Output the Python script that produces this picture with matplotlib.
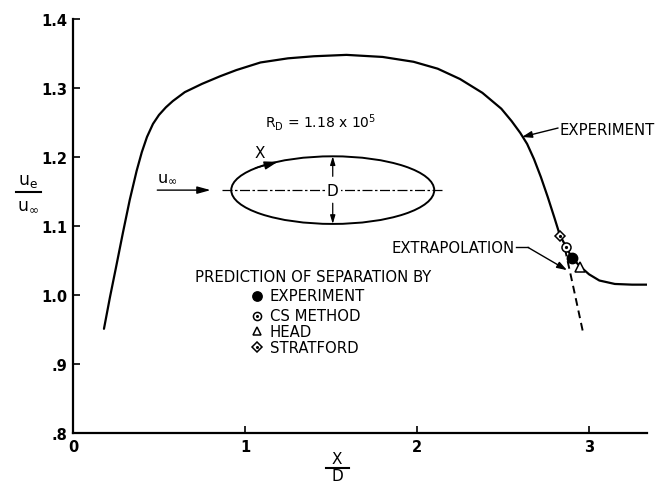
import matplotlib
matplotlib.use("Agg")
import matplotlib.pyplot as plt
from matplotlib.patches import Ellipse
from matplotlib.lines import Line2D

plt.rcParams['font.family'] = ['DejaVu Sans']
plt.rcParams['mathtext.fontset'] = 'dejavusans'

# ---- data ----
x_exp = [0.18, 0.215, 0.25, 0.29, 0.33, 0.37, 0.40, 0.43, 0.465, 0.50, 0.54, 0.58,
         0.65, 0.75, 0.855, 0.95, 1.09, 1.25, 1.40, 1.59, 1.80, 1.98, 2.12, 2.25,
         2.38, 2.49, 2.55, 2.60, 2.64, 2.68, 2.72, 2.76, 2.80, 2.83, 2.866, 2.90, 2.95,
         3.00, 3.06, 3.15, 3.25, 3.34]
y_exp = [0.951, 0.997, 1.040, 1.090, 1.138, 1.180, 1.207, 1.229, 1.248, 1.261, 1.272, 1.281,
         1.294, 1.306, 1.317, 1.326, 1.337, 1.343, 1.346, 1.348, 1.345, 1.338, 1.328, 1.313,
         1.293, 1.270, 1.252, 1.235, 1.219, 1.197, 1.171, 1.142, 1.111, 1.087, 1.070, 1.054, 1.041,
         1.030, 1.021, 1.016, 1.015, 1.015]

x_extrap = [2.86, 2.91, 2.965]
y_extrap = [1.067, 1.010, 0.946]

sep_methods = ["EXPERIMENT", "CS METHOD", "HEAD", "STRATFORD"]
sep_x = [2.90, 2.866, 2.95, 2.83]
sep_y = [1.054, 1.070, 1.041, 1.086]

x_ticks = [0, 1, 2, 3]
x_ticklabels = ["0", "1", "2", "3"]
y_ticks = [0.8, 0.9, 1.0, 1.1, 1.2, 1.3, 1.4]
y_ticklabels = [".8", ".9", "1.0", "1.1", "1.2", "1.3", "1.4"]

W, H = 666, 485
fig = plt.figure(figsize=(W / 100, H / 100), dpi=100)
ax = fig.add_axes([73 / W, 1 - 434 / H, (647 - 73) / W, (434 - 20) / H])
ax.set_xlim(0, 3.337)
ax.set_ylim(0.8, 1.4)
for s in ['top', 'right']:
    ax.spines[s].set_visible(False)
for s in ['left', 'bottom']:
    ax.spines[s].set_linewidth(1.6)

ax.set_xticks(x_ticks)
ax.set_xticklabels(x_ticklabels, fontsize=10.5, fontweight='bold')
ax.set_yticks(y_ticks)
ax.set_yticklabels(y_ticklabels, fontsize=10.5, fontweight='bold')
ax.tick_params(axis='both', direction='in', length=5, width=1.2, pad=4)

FS = 10.7

# curves
ax.plot(x_exp, y_exp, color='k', lw=1.6, solid_capstyle='round', solid_joinstyle='round')
ax.plot(x_extrap, y_extrap, color='k', lw=1.4, ls=(0, (4, 2.5)))

mstyles = [dict(marker='o', mfc='k', mec='k', ms=7.5),
           dict(marker='o', mfc='white', mec='k', ms=6.5, mew=1.1),
           dict(marker='^', mfc='white', mec='k', ms=6.5, mew=1.1),
           dict(marker='D', mfc='white', mec='k', ms=5.5, mew=1.1)]
for i in range(4):
    ax.plot([sep_x[i]], [sep_y[i]], ls='none', zorder=5, **mstyles[i])
ax.plot([sep_x[1], sep_x[3]], [sep_y[1], sep_y[3]], ls='none', marker='o', ms=1.3, color='k', zorder=6)

# legend-like block
ax.text(0.709, 1.0275, "PREDICTION OF SEPARATION BY", fontsize=FS, va='center', ha='left')
leg_y = [0.9986, 0.9696, 0.9478, 0.9246]
for i in range(4):
    st = dict(mstyles[i])
    st['ms'] = st['ms'] * 0.9
    ax.plot([1.07], [leg_y[i]], ls='none', **st)
    ax.text(1.145, leg_y[i], sep_methods[i], fontsize=FS, va='center', ha='left')
ax.plot([1.07, 1.07], [leg_y[1], leg_y[3]], ls='none', marker='o', ms=1.2, color='k')

# extrapolation annotation
ax.text(2.57, 1.069, "EXTRAPOLATION", fontsize=FS, va='center', ha='right')
ax.plot([2.575, 2.645], [1.069, 1.069], color='k', lw=1.0)
ax.annotate("", xy=(2.872, 1.036), xytext=(2.645, 1.069),
            arrowprops=dict(arrowstyle='-|>,head_length=0.6,head_width=0.2', color='k', lw=1.0,
                            shrinkA=0, shrinkB=0))

# experiment label
ax.text(2.83, 1.240, "EXPERIMENT", fontsize=FS, va='center', ha='left')
ax.annotate("", xy=(2.61, 1.229), xytext=(2.82, 1.242),
            arrowprops=dict(arrowstyle='-|>,head_length=0.6,head_width=0.2', color='k', lw=1.0,
                            shrinkA=0, shrinkB=0))

# ellipse sketch
ax.add_patch(Ellipse((1.51, 1.152), 1.18, 0.098, fill=False, ec='k', lw=1.4))
ax.plot([0.866, 2.151], [1.152, 1.152], color='k', lw=0.9, ls=(0, (8, 2, 2, 2)))
ax.text(1.51, 1.152, "D", fontsize=11, ha='center', va='center',
        bbox=dict(fc='white', ec='none', pad=1.5))
ax.annotate("", xy=(1.51, 1.201), xytext=(1.51, 1.172),
            arrowprops=dict(arrowstyle='-|>,head_length=0.5,head_width=0.15', color='k', lw=0.9,
                            shrinkA=0, shrinkB=0))
ax.annotate("", xy=(1.51, 1.103), xytext=(1.51, 1.133),
            arrowprops=dict(arrowstyle='-|>,head_length=0.5,head_width=0.15', color='k', lw=0.9,
                            shrinkA=0, shrinkB=0))
ax.annotate("", xy=(1.19, 1.193), xytext=(1.06, 1.184),
            arrowprops=dict(arrowstyle='-|>,head_length=0.8,head_width=0.25', color='k', lw=1.0,
                            shrinkA=0, shrinkB=0))
ax.text(1.087, 1.207, "X", fontsize=11, ha='center', va='center')
ax.annotate("", xy=(0.80, 1.152), xytext=(0.49, 1.152),
            arrowprops=dict(arrowstyle='-|>,head_length=0.8,head_width=0.22', color='k', lw=1.0,
                            shrinkA=0, shrinkB=0))
ax.text(0.55, 1.170, r"u$_{\infty}$", fontsize=11.5, ha='center', va='center')
ax.text(1.115, 1.252, r"R$_\mathrm{D}$ = 1.18 x 10$^5$", fontsize=10, ha='left', va='center')

# axis labels as fractions
fig.text(28 / W, 1 - 181 / H, r"u$_\mathrm{e}$", fontsize=12.5, ha='center', va='center')
fig.add_artist(Line2D([16 / W, 41 / W], [1 - 193 / H] * 2, color='k', lw=1.5))
fig.text(28 / W, 1 - 205 / H, r"u$_{\infty}$", fontsize=12.5, ha='center', va='center')

fig.text(337 / W, 1 - 460 / H, "X", fontsize=11, ha='center', va='center')
fig.add_artist(Line2D([326 / W, 349 / W], [1 - 469 / H] * 2, color='k', lw=1.5))
fig.text(337 / W, 1 - 477 / H, "D", fontsize=11, ha='center', va='center')

fig.savefig("out.png", dpi=100, facecolor='white')
